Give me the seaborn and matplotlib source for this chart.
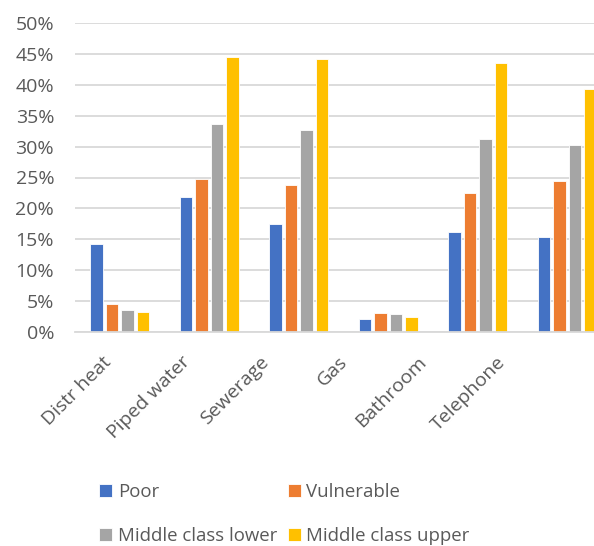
import matplotlib
matplotlib.use("Agg")
import matplotlib.pyplot as plt
from matplotlib.ticker import PercentFormatter, MultipleLocator
from matplotlib.transforms import ScaledTranslation
import seaborn as sns
import pandas as pd

services = ["Distr heat", "Piped water", "Sewerage", "Gas", "Bathroom", "Telephone"]
groups = ["Poor", "Vulnerable", "Middle class lower", "Middle class upper"]
poor = [14.2, 21.8, 17.5, 2.1, 16.2, 15.4]
vulnerable = [4.5, 24.8, 23.8, 3.1, 22.5, 24.4]
mc_lower = [3.5, 33.6, 32.7, 2.9, 31.2, 30.3]
mc_upper = [3.2, 44.5, 44.2, 2.4, 43.5, 39.4]
colors = ["#4472C4", "#ED7D31", "#A5A5A5", "#FFC000"]

df = pd.DataFrame({
    "service": services * 4,
    "group": [g for g in groups for _ in services],
    "share": poor + vulnerable + mc_lower + mc_upper,
})

sns.set_theme(style="white")
plt.rcParams["font.family"] = ["Open Sans", "DejaVu Sans"]

fig = plt.figure(figsize=(5.94, 5.46), dpi=100)
ax = fig.add_axes([75 / 594, 1 - 332 / 546, 537 / 594, 309 / 546])

sns.barplot(data=df, x="service", y="share", hue="group", hue_order=groups,
            order=services, palette=colors, saturation=1, width=0.69, gap=0.17,
            edgecolor="white", linewidth=0.6, ax=ax, legend=True)

ax.set_ylim(0, 50)
ax.yaxis.set_major_locator(MultipleLocator(5))
ax.yaxis.set_major_formatter(PercentFormatter(decimals=0))
ax.grid(axis="y", color="#D9D9D9", linewidth=1.3)
ax.set_axisbelow(True)
for s in ["top", "right", "left"]:
    ax.spines[s].set_visible(False)
ax.spines["bottom"].set_color("#D9D9D9")
ax.spines["bottom"].set_linewidth(1.3)
ax.set_xlabel("")
ax.set_ylabel("")
ax.tick_params(axis="both", length=0, labelcolor="#595959", labelsize=14)
ax.tick_params(axis="y", pad=15)
ax.tick_params(axis="x", pad=15)

# category labels sit on a slightly tighter pitch than the bar groups
for i, lbl in enumerate(ax.get_xticklabels()):
    lbl.set_rotation(45)
    lbl.set_ha("right")
    lbl.set_rotation_mode("anchor")
    shift = ScaledTranslation(-(18 + 10.6 * i) / 100, 0, fig.dpi_scale_trans)
    lbl.set_transform(lbl.get_transform() + shift)

handles, labels = ax.get_legend_handles_labels()
ax.get_legend().remove()
order = [0, 2, 1, 3]
leg = fig.legend([handles[k] for k in order], [labels[k] for k in order],
                 ncol=2, loc="center", bbox_to_anchor=(0.479, 0.059),
                 frameon=False, fontsize=13.4, handlelength=0.7,
                 handleheight=0.7, handletextpad=0.3, columnspacing=0.55,
                 labelspacing=1.4)
for t in leg.get_texts():
    t.set_color("#595959")

fig.savefig("out.png", dpi=100)
